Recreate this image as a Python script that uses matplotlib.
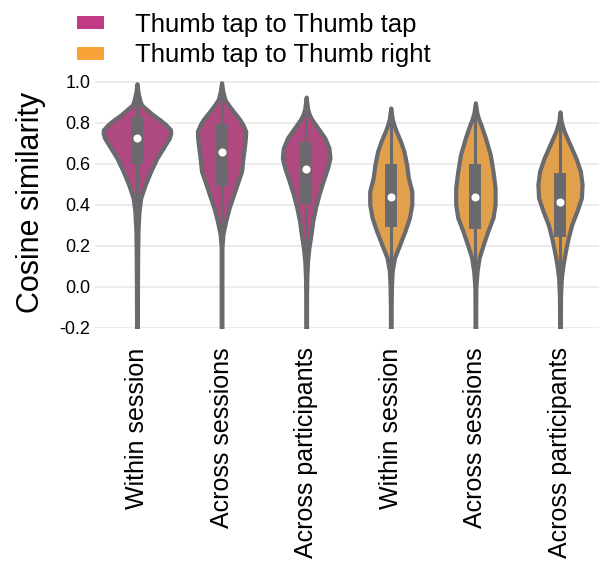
import matplotlib
matplotlib.use('Agg')
import matplotlib.pyplot as plt
from matplotlib.patches import Patch
import numpy as np

plt.rcParams['font.family'] = ['Liberation Sans', 'DejaVu Sans']
plt.rcParams['axes.unicode_minus'] = False

# Conditions along the x axis (two comparison groups, three levels each)
conditions = ['Within session', 'Across sessions', 'Across participants',
              'Within session', 'Across sessions', 'Across participants']
groups = ['Thumb tap to Thumb tap', 'Thumb tap to Thumb tap', 'Thumb tap to Thumb tap',
          'Thumb tap to Thumb right', 'Thumb tap to Thumb right', 'Thumb tap to Thumb right']
group_names = ['Thumb tap to Thumb tap', 'Thumb tap to Thumb right']

# Kernel density profiles: evaluation points and density at each point
kde_y = [
    [0.99, 0.95, 0.912, 0.887, 0.871, 0.839, 0.815, 0.79, 0.766, 0.75, 0.726, 0.677, 0.628, 0.564, 0.499, 0.434, 0.369, 0.272, 0.15, 0.0, -0.22],
    [0.995, 0.95, 0.912, 0.887, 0.862, 0.839, 0.815, 0.79, 0.758, 0.726, 0.693, 0.628, 0.564, 0.515, 0.45, 0.385, 0.321, 0.256, 0.191, 0.10, 0.0, -0.22],
    [0.925, 0.87, 0.845, 0.823, 0.80, 0.774, 0.726, 0.677, 0.628, 0.58, 0.515, 0.45, 0.385, 0.321, 0.256, 0.191, 0.126, 0.05, -0.05, -0.22],
    [0.872, 0.82, 0.79, 0.758, 0.71, 0.661, 0.596, 0.531, 0.466, 0.402, 0.337, 0.272, 0.207, 0.143, 0.078, 0.0, -0.1, -0.22],
    [0.897, 0.85, 0.82, 0.79, 0.726, 0.645, 0.564, 0.483, 0.402, 0.337, 0.272, 0.207, 0.143, 0.078, 0.0, -0.1, -0.22],
    [0.853, 0.81, 0.785, 0.758, 0.693, 0.628, 0.564, 0.499, 0.434, 0.369, 0.304, 0.24, 0.175, 0.11, 0.045, -0.05, -0.22],
]
kde_density = [
    [0.0, 0.03, 0.08, 0.13, 0.24, 0.46, 0.66, 0.84, 0.97, 0.98, 0.94, 0.76, 0.58, 0.40, 0.24, 0.11, 0.06, 0.03, 0.02, 0.015, 0.01],
    [0.0, 0.04, 0.10, 0.20, 0.31, 0.42, 0.53, 0.62, 0.70, 0.69, 0.67, 0.62, 0.58, 0.48, 0.35, 0.22, 0.12, 0.04, 0.01, 0.01, 0.01, 0.01],
    [0.0, 0.04, 0.08, 0.14, 0.23, 0.34, 0.54, 0.66, 0.69, 0.62, 0.49, 0.37, 0.27, 0.19, 0.14, 0.08, 0.04, 0.02, 0.01, 0.01],
    [0.0, 0.04, 0.09, 0.16, 0.28, 0.38, 0.46, 0.51, 0.61, 0.61, 0.54, 0.41, 0.26, 0.11, 0.04, 0.02, 0.01, 0.01],
    [0.0, 0.04, 0.09, 0.16, 0.29, 0.43, 0.51, 0.57, 0.57, 0.51, 0.36, 0.23, 0.11, 0.05, 0.015, 0.01, 0.01],
    [0.0, 0.03, 0.07, 0.12, 0.29, 0.46, 0.59, 0.64, 0.62, 0.49, 0.34, 0.24, 0.16, 0.09, 0.04, 0.015, 0.01],
]

# Box summary per condition
q1 = [0.599, 0.491, 0.405, 0.293, 0.280, 0.243]
median = [0.725, 0.657, 0.575, 0.439, 0.440, 0.415]
q3 = [0.826, 0.794, 0.706, 0.599, 0.599, 0.555]
whisker_lo = [0.26, 0.04, -0.05, -0.17, -0.20, -0.22]
whisker_hi = [0.98, 0.99, 0.92, 0.87, 0.89, 0.85]

group_colors = {'Thumb tap to Thumb tap': '#C03A84', 'Thumb tap to Thumb right': '#F8A338'}
fill_colors = {'Thumb tap to Thumb tap': '#AE4A80', 'Thumb tap to Thumb right': '#E1A04B'}
line_color = '#6A696E'

fig = plt.figure(figsize=(5.99, 5.69), dpi=100)
ax = fig.add_axes([0.158, 0.4236, 0.8475, 0.44])

positions = np.arange(len(conditions))
peak = max(max(d) for d in kde_density)
widths = [0.8 * max(d) / peak for d in kde_density]

vpstats = []
for i in range(len(conditions)):
    vpstats.append({
        'coords': np.array(kde_y[i]),
        'vals': np.array(kde_density[i]),
        'mean': median[i], 'median': median[i],
        'min': kde_y[i][-1], 'max': kde_y[i][0],
    })

parts = ax.violin(vpstats, positions=positions, widths=widths,
                  showmeans=False, showextrema=False, showmedians=False)
for body, g in zip(parts['bodies'], groups):
    body.set_facecolor(fill_colors[g])
    body.set_edgecolor(line_color)
    body.set_linewidth(3.0)
    body.set_alpha(1)
    body.set_joinstyle('round')
    body.set_zorder(2)

# Inner box: whisker line, interquartile bar, median dot
ax.vlines(positions, whisker_lo, whisker_hi, color=line_color, lw=2.2, zorder=3)
ax.vlines(positions, q1, q3, color=line_color, lw=8.6, zorder=3)
ax.scatter(positions, median, s=34, color='white', zorder=4, linewidths=0)

ax.set_xlim(-0.5, 5.5)
ax.set_ylim(-0.2, 1.02)
ax.set_yticks(np.arange(-0.2, 1.01, 0.2))
ax.set_yticklabels([f'{v:.1f}' for v in np.arange(-0.2, 1.01, 0.2)])
ax.set_xticks(positions)
ax.set_xticklabels(conditions, rotation=90, fontsize=18)
ax.tick_params(axis='x', length=0, pad=14)
ax.tick_params(axis='y', length=0, pad=3, labelsize=13)
ax.yaxis.grid(True, color='#EBEBEB', lw=1.3)
ax.set_axisbelow(True)
for s in ax.spines.values():
    s.set_visible(False)
ax.set_ylabel('Cosine similarity', fontsize=22, labelpad=10)

handles = [Patch(facecolor=group_colors[g], edgecolor='none') for g in group_names]
fig.legend(handles, group_names, loc='upper left', bbox_to_anchor=(77 / 599, 1 - 13 / 569),
           frameon=False, fontsize=18.5, handlelength=1.05, handleheight=0.4,
           handletextpad=1.2, labelspacing=0.25, borderpad=0, borderaxespad=0)

fig.savefig('out.png', dpi=100)
